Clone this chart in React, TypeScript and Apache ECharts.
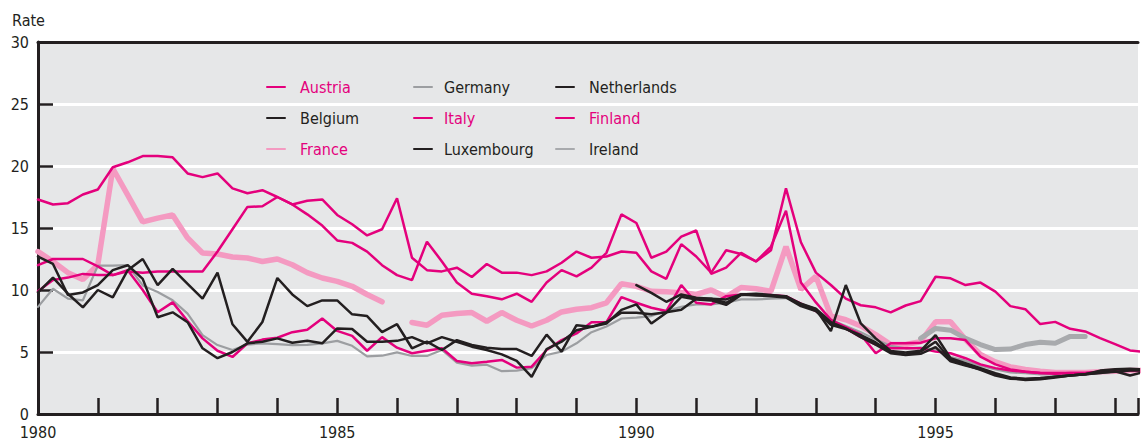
import React, { useEffect, useRef } from 'react';
import * as echarts from 'echarts';

// Quarterly observations starting 1980 Q1 (index k -> 1980 + k/4)
const START_YEAR = 1980;
const X_MIN = 1980;
const X_MAX = 1998.383;
const Y_TICKS = [0, 5, 10, 15, 20, 25, 30];
const X_LABEL_YEARS = [1980, 1985, 1990, 1995];

const N = null;

const italy = [
  17.3, 16.9, 17.0, 17.7, 18.1, 19.9, 20.3, 20.8, 20.8, 20.7, 19.4, 19.1, 19.4,
  18.2, 17.8, 18.05, 17.5, 16.9, 16.1, 15.2, 14.0, 13.8, 13.1, 12.0, 11.2,
  10.8, 13.9, 12.3, 10.6, 9.7, 9.5, 9.25, 9.7, 9.05, 10.6, 11.6, 11.1,
  11.8, 13.0, 16.1, 15.4, 12.6, 13.1, 14.3, 14.8, 11.3, 11.8, 13.0, 12.3,
  13.2, 18.2, 13.85, 11.4, 10.4, 9.3, 8.77, 8.6, 8.2, 8.75, 9.1, 11.07,
  10.94, 10.4, 10.6, 9.87, 8.7, 8.45, 7.25, 7.43, 6.87, 6.66, 6.12, 5.64, 5.13, 5.0,
];

const finland = [
  9.9, 10.8, 11.0, 11.3, 11.2, 11.2, 11.5, 11.4, 11.5, 11.5, 11.5, 11.5, 13.1,
  14.9, 16.7, 16.75, 17.5, 16.9, 17.2, 17.3, 16.05, 15.3, 14.4, 14.9, 17.4,
  12.6, 11.6, 11.5, 11.8, 11.05, 12.1, 11.4, 11.4, 11.2, 11.5, 12.2, 13.1,
  12.6, 12.7, 13.1, 13.0, 11.5, 10.9, 13.7, 12.7, 11.4, 13.2, 12.9, 12.3,
  13.5, 16.4, 10.6, 9.0, 7.6, 7.0, 6.4, 4.9, 5.7, 5.7, 5.75, 6.1,
  6.1, 5.96, 4.63, 4.0, 3.6, 3.4, 3.3, 3.25, 3.3, 3.3, 3.4, 3.4, 3.5, 3.5,
];

const austria = [
  12.0, 12.5, 12.5, 12.5, 11.9, 11.2, 11.6, 10.0, 8.2, 9.0, 7.5, 6.1, 5.1,
  4.6, 5.7, 6.0, 6.15, 6.6, 6.8, 7.7, 6.7, 6.3, 5.1, 6.2, 5.35,
  4.9, 5.1, 5.3, 4.28, 4.1, 4.22, 4.36, 3.74, 3.82, 5.16, 5.96, 6.5,
  7.4, 7.4, 9.43, 8.97, 8.57, 8.3, 10.4, 8.97, 8.84, 9.5, 9.64, 9.64,
  9.6, 9.5, 8.9, 8.3, 7.4, 6.9, 6.2, 5.6, 5.3, 5.3, 5.3, 5.03,
  4.9, 4.5, 4.0, 3.7, 3.5, 3.4, 3.3, 3.3, 3.3, 3.3, 3.4, 3.5, 3.5, 3.5,
];

const netherlands = [
  12.7, 12.1, 9.6, 9.8, 10.4, 11.6, 12.0, 10.9, 7.8, 8.2, 7.4, 5.3, 4.5,
  5.0, 5.7, 5.83, 6.1, 5.75, 5.9, 5.7, 6.9, 6.85, 5.83, 5.82, 5.9,
  6.2, 5.7, 6.2, 5.83, 5.43, 5.16, 4.81, 4.28, 3.0, 5.24, 5.83, 6.76,
  7.03, 7.3, 8.4, 8.84, 7.3, 8.17, 9.45, 9.24, 9.16, 8.8, 9.6, 9.64,
  9.56, 9.5, 8.84, 8.45, 6.68, 10.4, 7.3, 6.1, 5.08, 4.97, 5.1, 6.36,
  4.5, 4.1, 3.7, 3.3, 2.95, 2.85, 2.9, 3.0, 3.1, 3.2, 3.5, 3.6, 3.65, 3.6,
];

const belgium = [
  9.8, 11.0, 9.7, 8.6, 10.0, 9.4, 11.6, 12.5, 10.4, 11.7, 10.5, 9.3, 11.4,
  7.24, 5.82, 7.42, 10.97, 9.64, 8.7, 9.16, 9.16, 8.04, 7.9, 6.6, 7.24,
  5.3, 5.83, 5.16, 5.96, 5.56, 5.35, 5.24, 5.24, 4.68, 6.4, 5.03, 7.16,
  7.03, 7.4, 8.17, 8.17, 8.04, 8.2, 8.4, 9.3, 9.3, 9.24, 9.64, 9.56,
  9.5, 9.4, 8.7, 8.3, 7.2, 6.85, 6.36, 5.77, 4.97, 4.8, 5.03, 5.83,
  4.36, 3.96, 3.56, 3.1, 2.85, 2.8, 2.85, 3.0, 3.1, 3.2, 3.3, 3.45, 3.1, 3.4,
];

const luxembourg = [
  N, N, N, N, N, N, N, N, N, N, N, N, N,
  N, N, N, N, N, N, N, N, N, N, N, N,
  N, N, N, N, N, N, N, N, N, N, N, N,
  N, N, N, 10.4, 9.77, 9.05, 9.64, 9.37, 9.3, 8.97, 9.64, 9.7,
  9.6, 9.45, 8.9, 8.5, 7.4, 6.9, 6.2, 5.6, 4.9, 4.75, 4.85, 5.4,
  4.25, 3.9, 3.6, 3.2, 2.9, 2.75, 2.8, 2.95, 3.1, 3.2, 3.35, 3.4, 3.5, 3.5,
];

const germany = [
  8.64, 10.1, 9.3, 9.17, 11.97, 11.97, 12.0, 10.37, 9.84, 9.17, 8.1, 6.36, 5.56,
  5.16, 5.6, 5.7, 5.63, 5.55, 5.58, 5.7, 5.9, 5.5, 4.65, 4.7, 4.97,
  4.68, 4.68, 5.16, 4.14, 3.9, 3.98, 3.45, 3.5, 3.69, 4.76, 5.03, 5.7,
  6.6, 7.05, 7.7, 7.77, 7.9, 8.3, 8.65, 8.84, 8.84, 8.97, 9.24, 9.24,
  9.3, 9.35, 8.9, 8.4, 7.6, 7.1, 6.6, 6.0, 5.5, 5.3, 5.35, 5.2,
  4.6, 4.3, 3.9, 3.6, 3.35, 3.3, 3.2, 3.2, 3.15, 3.2, 3.3, 3.4, 3.5, 3.5,
];

const france = [
  13.1, 12.3, 11.4, 10.84, 12.04, 19.8, 17.65, 15.5, 15.8, 16.05, 14.2, 12.98, 12.9,
  12.66, 12.58, 12.3, 12.5, 12.04, 11.4, 10.97, 10.7, 10.3, 9.64, 9.05, N,
  7.38, 7.16, 7.96, 8.1, 8.18, 7.48, 8.18, 7.56, 7.1, 7.56, 8.23, 8.45,
  8.57, 8.97, 10.5, 10.3, 9.9, 9.85, 9.8, 9.64, 10.0, 9.44, 10.2, 10.1,
  9.9, 13.5, 10.04, 11.1, 7.9, 7.6, 7.1, 6.4, 5.6, 5.6, 5.83, 7.43,
  7.43, 6.0, 4.8, 4.2, 3.8, 3.6, 3.45, 3.35, 3.35, 3.35, 3.4, 3.45, 3.5, 3.5,
];

const ireland = [
  N, N, N, N, N, N, N, N, N, N, N, N, N,
  N, N, N, N, N, N, N, N, N, N, N, N,
  N, N, N, N, N, N, N, N, N, N, N, N,
  N, N, N, N, N, N, N, N, N, N, N, N,
  N, N, N, N, N, N, N, N, N, N, 6.1, 6.9,
  6.76, 6.1, 5.6, 5.2, 5.24, 5.6, 5.78, 5.7, 6.26, 6.26, N, N, N, N,
];

const FONT = "'Liberation Sans Narrow', 'DejaVu Sans Condensed', 'Liberation Sans', sans-serif";
const FS = 16;
const MAGENTA = '#e4007c';
const PINK = '#f49ac1';
const DARK = '#231f20';
const GRAY = '#9c9ea1';
const IRL = '#a8aaad';
const BG = '#e6e7e8';
const CLEAR = 'rgba(0,0,0,0)';

type Row = (number | null)[];

function toPoints(values: Row) {
  return values.map((v, k) => [START_YEAR + k / 4, v === null ? '-' : v]);
}

function makeSeries(name: string, values: Row, color: string, width: number, z: number) {
  return {
    name,
    type: 'line',
    data: toPoints(values),
    showSymbol: false,
    symbol: 'none',
    connectNulls: false,
    clip: true,
    z,
    lineStyle: { color, width, cap: 'round' },
    itemStyle: { color },
    emphasis: { disabled: true },
  };
}

function legendBlock(left: number, pad: number, items: { name: string; color: string }[]) {
  return {
    orient: 'vertical',
    left,
    top: 78,
    padding: 0,
    itemWidth: 18,
    itemHeight: 12,
    itemGap: 13,
    selectedMode: false,
    itemStyle: { color: CLEAR, borderColor: CLEAR, borderWidth: 0, opacity: 0 },
    textStyle: { fontFamily: FONT, fontSize: FS, lineHeight: 18, padding: [0, 0, 0, pad] },
    data: items.map((it) => ({ name: it.name, textStyle: { color: it.color } })),
  };
}

export default function App() {
  const ref = useRef<HTMLDivElement>(null);

  useEffect(() => {
    if (!ref.current) return;
    const chart = echarts.init(ref.current, undefined, { renderer: 'svg' });
    chart.setOption({
      animation: false,
      grid: { left: 38, right: 0, top: 42, bottom: 24, show: true, backgroundColor: BG, borderWidth: 0 },
      graphic: [
        {
          type: 'text',
          left: 12,
          top: 12,
          style: { text: 'Rate', fontFamily: FONT, fontSize: FS, fill: DARK },
        },
      ],
      legend: [
        legendBlock(266, 10, [
          { name: 'Austria', color: MAGENTA },
          { name: 'Belgium', color: DARK },
          { name: 'France', color: MAGENTA },
        ]),
        legendBlock(413, 7, [
          { name: 'Germany', color: DARK },
          { name: 'Italy', color: MAGENTA },
          { name: 'Luxembourg', color: DARK },
        ]),
        legendBlock(555, 10, [
          { name: 'Netherlands', color: DARK },
          { name: 'Finland', color: MAGENTA },
          { name: 'Ireland', color: DARK },
        ]),
      ],
      xAxis: [
        {
          type: 'value',
          min: X_MIN,
          max: X_MAX,
          interval: 1,
          axisLine: { show: true, lineStyle: { color: DARK, width: 3 } },
          axisTick: { show: true, inside: true, length: 16, lineStyle: { color: DARK, width: 2.5 } },
          axisLabel: {
            margin: 10,
            fontFamily: FONT,
            fontSize: FS,
            color: DARK,
            formatter: (v: number) => (X_LABEL_YEARS.includes(Math.round(v * 1000) / 1000) ? String(v) : ''),
          },
          splitLine: { show: false },
        },
        {
          type: 'value',
          position: 'top',
          min: X_MIN,
          max: X_MAX,
          interval: 1,
          axisLine: { show: true, lineStyle: { color: DARK, width: 3 } },
          axisTick: { show: false },
          axisLabel: { show: false },
          splitLine: { show: false },
        },
      ],
      yAxis: {
        type: 'value',
        min: Y_TICKS[0],
        max: Y_TICKS[Y_TICKS.length - 1],
        interval: 5,
        axisLine: { show: true, lineStyle: { color: DARK, width: 3 } },
        axisTick: { show: true, inside: true, length: 15, lineStyle: { color: DARK, width: 2.5 } },
        axisLabel: { margin: 9, fontFamily: FONT, fontSize: FS, color: DARK },
        splitLine: { show: true, lineStyle: { color: '#ffffff', width: 3 } },
      },
      series: [
        makeSeries('France', france, PINK, 5.5, 2),
        makeSeries('Ireland', ireland, IRL, 5, 2),
        makeSeries('Germany', germany, GRAY, 2.2, 3),
        makeSeries('Italy', italy, MAGENTA, 2.5, 4),
        makeSeries('Finland', finland, MAGENTA, 2.5, 4),
        makeSeries('Austria', austria, MAGENTA, 2.5, 4),
        makeSeries('Belgium', belgium, DARK, 2.5, 5),
        makeSeries('Luxembourg', luxembourg, DARK, 2.5, 5),
        makeSeries('Netherlands', netherlands, DARK, 2.5, 5),
      ],
    });
    return () => chart.dispose();
  }, []);

  return <div ref={ref} style={{ position: 'absolute', left: 0, top: 0, width: 1141, height: 440 }} />;
}
